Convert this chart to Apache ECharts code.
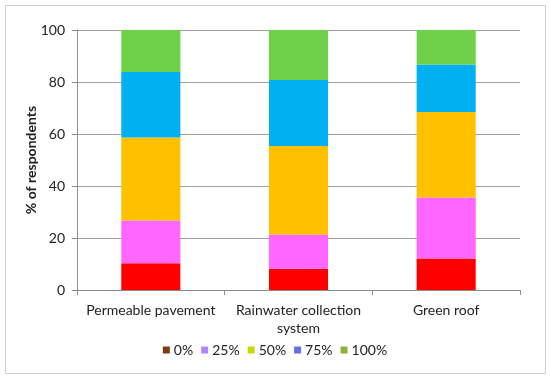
<!DOCTYPE html>
<html><head><meta charset="utf-8">
<script src="https://cdn.jsdelivr.net/npm/echarts@6/dist/echarts.min.js"></script>
<style>html,body{margin:0;padding:0;background:#fff}#c{width:550px;height:379px}
#frame{position:absolute;left:5px;top:5px;width:539px;height:367px;border:1px solid #d0d0d0;pointer-events:none}</style>
</head><body><div id="c"></div><div id="frame"></div>
<script>
const categories = ['Permeable pavement', 'Rainwater collection\nsystem', 'Green roof'];
const seriesNames = ['0%', '25%', '50%', '75%', '100%'];
const v0 = [10.3, 8.2, 12.1];
const v25 = [16.4, 13.1, 23.5];
const v50 = [32.0, 34.1, 32.9];
const v75 = [25.1, 25.4, 18.2];
const v100 = [16.2, 19.2, 13.3];
const yTicks = [0, 20, 40, 60, 80, 100];

const barColors = ['#FF0000', '#FF66FF', '#FFC000', '#00B0F0', '#6FD14A'];
const legendColors = ['#7F3B10', '#AE86F8', '#C8D800', '#6070EE', '#8DB043'];
const values = [v0, v25, v50, v75, v100];
const font = 'Lato, "Open Sans", sans-serif';

const chart = echarts.init(document.getElementById('c'));
chart.setOption({
  animation: false,
  grid: {left: 77, right: 30, top: 30, bottom: 89},
  legend: {
    bottom: 17, left: 'center', icon: 'rect', itemWidth: 7, itemHeight: 7, itemGap: 8,
    textStyle: {fontFamily: font, fontSize: 14, color: '#222', padding: [0, 0, 0, -1]},
    data: seriesNames.map((n, i) => ({name: n, icon: 'rect', itemStyle: {color: legendColors[i]}}))
  },
  xAxis: {
    type: 'category', data: categories,
    axisLine: {lineStyle: {color: '#8c8c8c'}},
    axisTick: {show: true, length: 5, lineStyle: {color: '#8c8c8c'}},
    axisLabel: {fontFamily: font, fontSize: 14, color: '#222', margin: 11, lineHeight: 18, interval: 0}
  },
  yAxis: {
    type: 'value', min: 0, max: 100, interval: 20,
    name: '% of respondents', nameLocation: 'middle', nameGap: 39, nameRotate: 90,
    nameMoveOverlap: false,
    nameTextStyle: {fontFamily: font, fontSize: 14, fontWeight: 'bold', color: '#222'},
    axisLine: {show: true, lineStyle: {color: '#8c8c8c'}},
    axisTick: {show: true, length: 5, lineStyle: {color: '#8c8c8c'}},
    splitLine: {lineStyle: {color: '#a0a0a0'}},
    axisLabel: {fontFamily: font, fontSize: 14, color: '#222', margin: 12,
      formatter: v => yTicks.includes(v) ? String(v) : ''}
  },
  series: seriesNames.map((n, i) => ({
    name: n, type: 'bar', stack: 'total', barWidth: '40%',
    itemStyle: {color: barColors[i]},
    data: values[i]
  }))
});
</script></body></html>
